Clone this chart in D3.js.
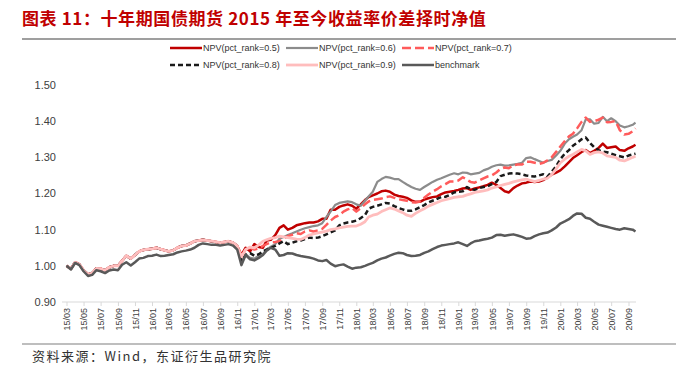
<!DOCTYPE html>
<html>
<head>
<meta charset="utf-8">
<script src="https://cdn.jsdelivr.net/npm/d3@7"></script>
<style>
  body { margin: 0; background: #fff; }
  svg { display: block; }
</style>
</head>
<body>
<div id="chart"></div>
<script>
// semi-monthly sample dates (20th / 5th), last point mid Oct 2020
let start = new Date(2015, 2, 20);
let dates = d3.range(134).map(function(k){
  return k % 2 === 0 ? d3.timeMonth.offset(start, k / 2) : new Date(2015, 2 + (k + 1) / 2, 5);
});
dates.push(new Date(2020, 9, 15));

// before Nov 2016 all the NPV curves sit on top of each other
let npvEarly = [1.000,0.992,1.010,1.004,0.988,0.976,0.980,0.993,0.992,0.988,
  0.996,1.000,1.000,1.014,1.028,1.020,1.030,1.040,1.044,1.046,
  1.047,1.050,1.046,1.043,1.040,1.043,1.050,1.055,1.056,1.062,
  1.068,1.070,1.072,1.070,1.068,1.066,1.064,1.066,1.068,1.064,1.055];

let npv05 = npvEarly.concat([1.030,1.050,1.040,1.060,1.052,1.050,1.070,1.072,1.085,1.105,
  1.112,1.100,1.105,1.112,1.115,1.118,1.120,1.120,1.123,1.130,
  1.130,1.155,1.155,1.163,1.167,1.170,1.166,1.158,1.170,1.182,
  1.190,1.195,1.200,1.206,1.208,1.205,1.197,1.193,1.191,1.188,
  1.181,1.177,1.177,1.183,1.187,1.190,1.192,1.198,1.203,1.205,
  1.207,1.210,1.214,1.215,1.210,1.214,1.217,1.220,1.224,1.230,
  1.224,1.215,1.206,1.203,1.215,1.222,1.228,1.230,1.233,1.232,
  1.233,1.237,1.245,1.252,1.258,1.264,1.275,1.287,1.298,1.306,
  1.315,1.320,1.312,1.318,1.326,1.338,1.326,1.328,1.330,1.320,
  1.318,1.325,1.330,1.335]);

let npv06 = npvEarly.concat([1.010,1.032,1.022,1.020,1.028,1.033,1.045,1.053,1.060,1.075,
  1.080,1.085,1.090,1.095,1.100,1.104,1.107,1.110,1.112,1.118,
  1.135,1.150,1.168,1.174,1.176,1.178,1.176,1.170,1.166,1.180,
  1.192,1.205,1.232,1.240,1.246,1.244,1.240,1.240,1.232,1.225,
  1.218,1.213,1.210,1.218,1.225,1.232,1.238,1.242,1.247,1.252,
  1.256,1.253,1.258,1.257,1.253,1.255,1.257,1.264,1.268,1.274,
  1.278,1.280,1.277,1.278,1.280,1.282,1.285,1.298,1.300,1.295,
  1.290,1.285,1.290,1.293,1.305,1.318,1.338,1.350,1.357,1.363,
  1.375,1.405,1.405,1.393,1.395,1.412,1.400,1.408,1.400,1.388,
  1.383,1.386,1.390,1.396]);

let npv07 = npvEarly.concat([1.025,1.045,1.050,1.045,1.048,1.055,1.060,1.065,1.066,1.068,
  1.075,1.082,1.086,1.090,1.088,1.095,1.098,1.095,1.098,1.102,
  1.113,1.125,1.135,1.140,1.150,1.156,1.160,1.150,1.160,1.170,
  1.178,1.182,1.184,1.186,1.190,1.192,1.188,1.184,1.182,1.180,
  1.176,1.175,1.178,1.188,1.197,1.205,1.212,1.220,1.226,1.233,
  1.233,1.236,1.245,1.238,1.232,1.230,1.236,1.242,1.247,1.250,
  1.258,1.268,1.272,1.270,1.278,1.280,1.280,1.288,1.288,1.285,
  1.282,1.285,1.292,1.300,1.315,1.330,1.345,1.358,1.365,1.380,
  1.398,1.410,1.398,1.400,1.404,1.410,1.397,1.398,1.400,1.375,
  1.363,1.365,1.372,1.380]);

let npv08 = npvEarly.concat([1.015,1.030,1.035,1.028,1.032,1.040,1.045,1.050,1.055,1.062,
  1.068,1.060,1.064,1.068,1.070,1.074,1.078,1.077,1.078,1.082,
  1.087,1.092,1.098,1.112,1.117,1.120,1.122,1.125,1.132,1.140,
  1.158,1.163,1.166,1.170,1.174,1.172,1.165,1.160,1.156,1.152,
  1.152,1.156,1.162,1.168,1.175,1.180,1.185,1.190,1.191,1.196,
  1.203,1.205,1.206,1.218,1.212,1.210,1.215,1.218,1.220,1.226,
  1.232,1.248,1.252,1.255,1.256,1.255,1.253,1.250,1.248,1.247,
  1.250,1.253,1.247,1.260,1.275,1.295,1.310,1.320,1.332,1.340,
  1.350,1.355,1.340,1.328,1.320,1.316,1.314,1.310,1.306,1.303,
  1.300,1.305,1.308,1.310]);

let npv09 = npvEarly.concat([1.025,1.045,1.052,1.050,1.058,1.068,1.072,1.076,1.078,1.082,
  1.080,1.078,1.076,1.074,1.073,1.078,1.085,1.088,1.091,1.093,
  1.096,1.100,1.102,1.105,1.107,1.109,1.110,1.110,1.115,1.122,
  1.135,1.140,1.143,1.150,1.155,1.160,1.157,1.152,1.147,1.140,
  1.137,1.145,1.152,1.158,1.165,1.170,1.175,1.180,1.183,1.186,
  1.189,1.191,1.192,1.196,1.199,1.203,1.205,1.207,1.210,1.215,
  1.218,1.222,1.225,1.228,1.232,1.235,1.238,1.240,1.236,1.233,
  1.236,1.240,1.242,1.252,1.268,1.285,1.295,1.303,1.308,1.315,
  1.322,1.318,1.308,1.313,1.315,1.312,1.304,1.302,1.300,1.292,
  1.290,1.295,1.300,1.303]);

let benchmark = [1.000,0.990,1.008,1.002,0.985,0.972,0.975,0.988,0.985,0.980,
  0.987,0.990,0.988,1.003,1.010,1.001,1.010,1.020,1.022,1.027,
  1.028,1.031,1.027,1.028,1.030,1.032,1.037,1.040,1.042,1.045,
  1.050,1.058,1.062,1.060,1.058,1.058,1.056,1.058,1.060,1.056,
  1.045,1.002,1.030,1.018,1.015,1.022,1.030,1.042,1.050,1.045,
  1.028,1.030,1.035,1.034,1.030,1.027,1.025,1.023,1.020,1.015,
  1.013,1.016,1.006,0.999,1.002,1.004,0.998,0.992,0.995,0.996,
  1.000,1.004,1.008,1.015,1.020,1.023,1.028,1.033,1.036,1.035,
  1.030,1.027,1.028,1.030,1.036,1.040,1.046,1.052,1.056,1.058,
  1.060,1.062,1.065,1.060,1.055,1.062,1.068,1.070,1.073,1.075,
  1.078,1.085,1.086,1.083,1.085,1.087,1.084,1.080,1.075,1.076,
  1.082,1.087,1.090,1.092,1.098,1.106,1.117,1.123,1.129,1.138,
  1.145,1.144,1.133,1.130,1.122,1.114,1.111,1.108,1.105,1.102,
  1.100,1.104,1.102,1.100,1.095];

let seriesNames = ["NPV(pct_rank=0.5)","NPV(pct_rank=0.6)","NPV(pct_rank=0.7)",
  "NPV(pct_rank=0.8)","NPV(pct_rank=0.9)","benchmark"];
let seriesValues = [npv05, npv06, npv07, npv08, npv09, benchmark];
let yTicks = [0.90,1.00,1.10,1.20,1.30,1.40,1.50];

// styles, same order as the series
let styles = [
  {color:"#c00000", width:2.5, dash:null},
  {color:"#8c8c8c", width:2.2, dash:null},
  {color:"#ff5b5b", width:2.5, dash:"9,4"},
  {color:"#1a1a1a", width:2.5, dash:"5,3"},
  {color:"#ffbdbd", width:2.8, dash:null},
  {color:"#595959", width:2.5, dash:null}
];

let width = 700, height = 370;
let svg = d3.select("#chart").append("svg")
  .attr("width", width).attr("height", height);

// title + rule
svg.append("text")
  .attr("x", 22).attr("y", 25)
  .attr("fill", "#c00000")
  .style("font-family", "'Noto Sans CJK SC', sans-serif")
  .style("font-weight", "bold")
  .style("font-size", "17px")
  .style("letter-spacing", "0.6px")
  .text("图表 11：十年期国债期货 2015 年至今收益率价差择时净值");
svg.append("line").attr("x1", 22).attr("x2", 676).attr("y1", 39).attr("y2", 39)
  .attr("stroke", "#7f7f7f").attr("stroke-width", 1.5);

// scales
let x = d3.scaleTime().domain([dates[0], dates[dates.length-1]]).range([66.5, 635.5]);
let y = d3.scaleLinear().domain([0.9, 1.5]).range([302, 85]);

// y labels (no axis line)
svg.selectAll(".ylab").data(yTicks).enter().append("text")
  .attr("class","ylab")
  .attr("x", 56).attr("y", d => y(d)).attr("dy","0.35em")
  .attr("text-anchor","end")
  .attr("fill","#404040")
  .style("font-family","'Liberation Sans', Arial, sans-serif")
  .style("font-size","11px")
  .text(d => d3.format(".2f")(d));

// x axis: ticks every two months from the first trading day
let xTicks = d3.range(34).map(j => d3.timeMonth.offset(start, 2*j));
let xAxis = d3.axisBottom(x).tickValues(xTicks).tickSize(4).tickFormat(d3.timeFormat("%y/%m"));
let gx = svg.append("g").attr("transform","translate(0,302)").call(xAxis);
gx.select(".domain").attr("stroke","#d9d9d9").attr("d","M62,0H636");
gx.selectAll(".tick line").attr("stroke","#d9d9d9");
gx.selectAll(".tick text")
  .attr("fill","#404040")
  .style("font-family","'Liberation Sans', Arial, sans-serif")
  .style("font-size","9px")
  .attr("transform","rotate(-90)")
  .attr("text-anchor","end")
  .attr("x", -6).attr("y", 0).attr("dy","0.35em");

// lines
let line = d3.line().x((d,i) => x(dates[i])).y(d => y(d));
svg.selectAll(".series").data(seriesValues).enter().append("path")
  .attr("class","series")
  .attr("d", d => line(d))
  .attr("fill","none")
  .attr("stroke", (d,i) => styles[i].color)
  .attr("stroke-width", (d,i) => styles[i].width)
  .attr("stroke-dasharray", (d,i) => styles[i].dash)
  .attr("stroke-linejoin","round");

// legend, two rows of three
let legend = svg.selectAll(".leg").data(seriesNames).enter().append("g")
  .attr("class","leg")
  .attr("transform", (d,i) => "translate(" + [170,286,402][i%3] + "," + [48,65][Math.floor(i/3)] + ")");
legend.append("line")
  .attr("x1",0).attr("x2",32).attr("y1",0).attr("y2",0)
  .attr("stroke", (d,i) => styles[i].color)
  .attr("stroke-width", (d,i) => styles[i].width)
  .attr("stroke-dasharray", (d,i) => styles[i].dash);
legend.append("text")
  .attr("x",33).attr("y",0).attr("dy","0.35em")
  .attr("fill","#333")
  .style("font-family","'Liberation Sans', Arial, sans-serif")
  .style("font-size","9px")
  .text(d => d);

// source
svg.append("line").attr("x1", 22).attr("x2", 676).attr("y1", 344).attr("y2", 344)
  .attr("stroke", "#7f7f7f").attr("stroke-width", 1.2);
svg.append("text")
  .attr("x", 32).attr("y", 361)
  .attr("fill","#333")
  .style("font-family","'Noto Sans CJK SC', serif")
  .style("font-size","13px")
  .style("letter-spacing","1.5px")
  .text("资料来源：Wind，东证衍生品研究院");
</script>
</body>
</html>
